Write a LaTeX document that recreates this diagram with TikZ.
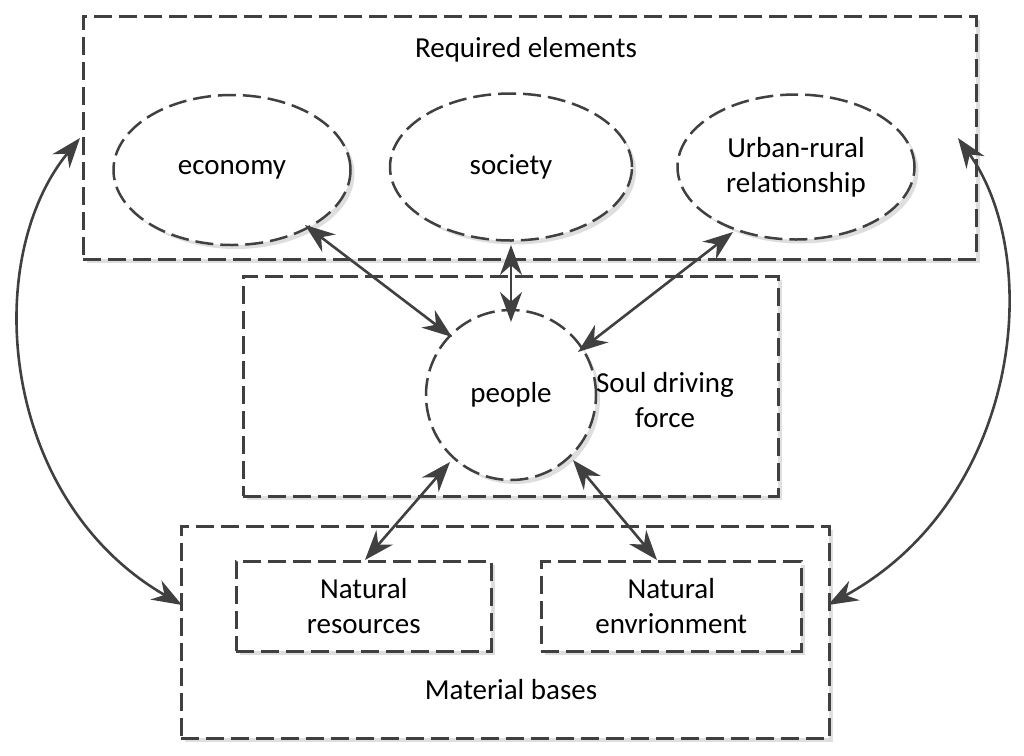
\documentclass[tikz,border=0pt]{standalone}
\usepackage{fontspec}
\setmainfont{Carlito}
\usetikzlibrary{arrows.meta,shadows,shapes.geometric}
\begin{document}
\begin{tikzpicture}[x=1pt,y=-1pt,
  dsh/.style={draw=black!75,line width=2.5pt,dash pattern=on 18pt off 7pt,
    drop shadow={shadow xshift=4pt,shadow yshift=-4pt,fill=black!25}},
  lbl/.style={font=\fontsize{29}{35}\selectfont,align=center},
  arr/.style={draw=black!75,line width=2.6pt,{Stealth[length=30pt,width=22pt]}-{Stealth[length=30pt,width=22pt]}}]
\useasboundingbox (0,0) rectangle (1024,755);
\node[dsh,fill=white,minimum width=893pt,minimum height=243pt,anchor=north west] (top) at (82,15) {};
\node[lbl] (req) at (526,50) {Required elements};
\node[dsh,fill=white,ellipse,minimum width=237pt,minimum height=150pt] (eco) at (232,170) {};
\node[lbl] at (eco) {economy};
\node[dsh,fill=white,ellipse,minimum width=242pt,minimum height=147pt] (soc) at (511,167) {};
\node[lbl] at (soc) {society};
\node[dsh,fill=white,ellipse,minimum width=237pt,minimum height=145pt] (urb) at (796,167) {};
\node[lbl] at (urb) {Urban-rural\\relationship};
\node[dsh,fill=white,minimum width=535pt,minimum height=220pt,anchor=north west] (mid) at (242,275) {};
\node[dsh,fill=white,circle,minimum size=170pt] (ppl) at (511,395) {};
\node[lbl] at (ppl) {people};
\node[lbl] (soul) at (665,400) {Soul driving\\force};
\node[dsh,fill=white,minimum width=648pt,minimum height=212pt,anchor=north west] (bot) at (180,525) {};
\node[dsh,fill=white,minimum width=255pt,minimum height=90pt,anchor=north west] (res) at (235,560) {};
\node[lbl] at (res) {Natural\\resources};
\node[dsh,fill=white,minimum width=260pt,minimum height=90pt,anchor=north west] (env) at (540,560) {};
\node[lbl] at (env) {Natural\\envrionment};
\node[lbl] (mat) at (511,690) {Material bases};
\coordinate (e1) at (305,225); \coordinate (p1) at (452,337);
\coordinate (s1) at (511,245); \coordinate (p2) at (511,322);
\coordinate (u1) at (733,232); \coordinate (p3) at (578,352);
\coordinate (p4) at (450,462); \coordinate (r1) at (365,560);
\coordinate (p5) at (573,460); \coordinate (n1) at (657,560);
\coordinate (tl) at (80,138); \coordinate (bl) at (182,605);
\coordinate (tr) at (958,138); \coordinate (br) at (828,605);
\draw[arr] (e1) -- (p1);
\draw[arr] (s1) -- (p2);
\draw[arr] (u1) -- (p3);
\draw[arr] (p4) -- (r1);
\draw[arr] (p5) -- (n1);
\draw[arr] (tl) .. controls (-20,260) and (0,500) .. (bl);
\draw[arr] (tr) .. controls (1045,260) and (1020,500) .. (br);
\end{tikzpicture}
\end{document}
